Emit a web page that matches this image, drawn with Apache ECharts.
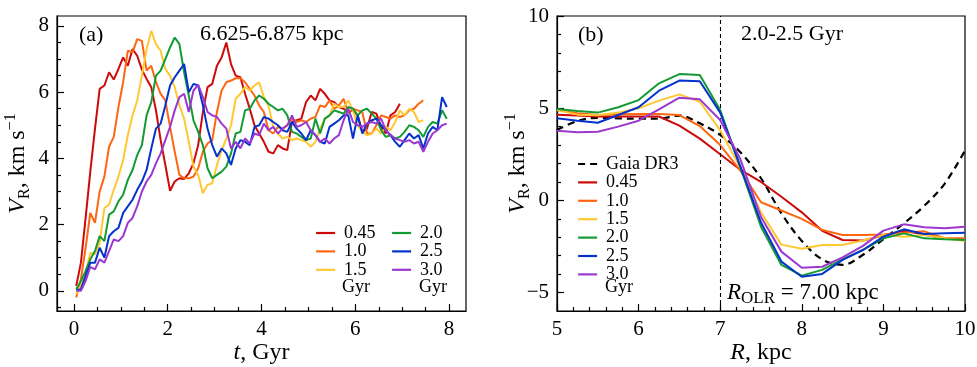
<!DOCTYPE html>
<html>
<head>
<meta charset="utf-8">
<script src="https://cdn.jsdelivr.net/npm/echarts@6/dist/echarts.min.js"></script>
<style>
  html, body { margin: 0; padding: 0; background: #fff; }
  #chart { width: 977px; height: 367px; }
</style>
</head>
<body>
<div id="chart"></div>
<script>
// ---------- shared ----------
const ageLabels = ['0.45', '1.0', '1.5', '2.0', '2.5', '3.0'];
const ageColors = ['#cc0a0a', '#ff6611', '#ffc833', '#129a33', '#0433cc', '#9a38cf'];

// ---------- panel (a): V_R(t) in the 6.625-6.875 kpc ring ----------
const ringLabel = '6.625-6.875 kpc';
const tFirst = 0.05;   // first sample time, Gyr
const tStep = 0.1;     // sampling step, Gyr
const vrTime045 = [0.15,0.85,2.2,3.6,4.9,6.1,6.2,6.6,6.38,6.7,
  7.05,6.8,7.3,7.1,6.68,6.4,6.15,5.45,4.55,3.8,
  3.02,3.3,3.4,3.38,3.55,3.85,4.4,5.4,6.15,6.25,
  6.8,7.05,7.5,6.85,6.5,6.45,5.95,5.5,5.0,4.75,
  4.5,4.2,4.15,4.4,4.3,4.25,5.1,5.15,5.2,5.7,
  5.9,5.75,6.1,5.95,5.75,5.7,5.55,5.5,5.4,5.45,
  5.3,4.8,4.9,5.4,5.35,4.95,4.75,5.3,5.4,5.65];
const vrTime10 = [-0.2,0.35,1.3,2.35,2.05,3.0,3.45,4.35,4.65,5.55,
  6.3,7.25,7.2,7.6,7.55,6.65,6.8,6.3,5.95,5.75,
  4.95,4.2,3.5,3.4,3.4,3.45,3.7,4.2,4.45,4.55,
  5.4,6.05,6.3,6.35,6.42,6.42,6.3,6.1,5.9,5.6,
  5.4,4.85,4.75,4.95,4.9,5.0,5.2,5.1,5.15,5.1,
  5.2,5.25,5.6,5.55,5.75,5.5,5.6,5.8,5.35,5.5,
  5.45,5.4,4.75,4.75,5.0,5.3,5.25,5.2,5.3,5.25,
  5.3,5.45,5.5,5.65,5.75];
const vrTime15 = [-0.1,0.15,0.55,1.15,1.1,1.45,2.5,2.6,3.05,3.45,
  3.95,4.7,5.3,5.75,6.5,7.3,7.85,7.45,7.25,6.7,
  6.5,6.15,5.6,5.2,4.5,3.75,3.5,2.95,3.2,3.25,
  3.8,4.25,4.6,5.0,5.8,5.95,6.15,6.05,6.2,6.3,
  5.85,5.6,4.95,4.75,4.6,4.65,4.55,4.6,4.55,4.5,
  4.35,4.5,4.9,5.2,5.3,5.65,5.55,5.55,5.75,5.45,
  5.0,4.8,4.7,4.75,4.9,4.75,4.95,4.85,5.1,5.45,
  5.3,5.5,5.4,5.1,5.15];
const vrTime20 = [0.05,0.3,0.6,0.95,1.2,1.65,1.5,2.3,2.4,2.7,
  2.9,3.35,3.65,4.1,4.4,5.3,5.7,6.5,6.65,7.0,
  7.35,7.65,7.45,6.6,5.9,5.15,4.8,4.4,3.7,3.4,
  3.5,3.6,3.75,4.15,4.75,4.8,5.45,5.5,5.75,5.9,
  5.8,5.65,5.55,5.45,5.5,5.3,4.8,4.75,4.65,4.55,
  4.6,5.2,4.75,5.2,5.3,5.45,5.4,5.35,5.55,5.5,
  5.3,5.45,5.5,5.35,5.2,4.85,4.65,4.7,4.6,4.65,
  4.8,5.0,4.95,4.85,4.65,4.95,5.1,5.05,5.45,5.2];
const vrTime25 = [0.02,0.05,0.45,0.85,0.85,1.3,1.0,1.65,1.8,1.9,
  2.35,2.55,2.75,3.05,3.3,3.65,4.3,4.9,5.05,5.6,
  6.2,6.45,6.65,6.85,6.0,6.25,6.2,5.6,4.9,4.4,
  4.05,4.3,4.15,3.8,4.3,4.55,4.5,4.4,4.95,5.0,
  5.25,5.2,5.1,5.0,4.85,4.8,5.1,4.9,4.75,4.55,
  4.85,4.7,4.5,4.45,4.95,5.05,5.15,5.3,5.3,4.6,
  5.3,4.75,5.05,5.15,5.2,5.0,4.85,4.7,4.5,4.35,
  4.55,4.75,4.6,4.7,4.3,4.75,4.95,4.85,5.85,5.55];
const vrTime30 = [0.0,0.0,0.3,0.72,0.65,0.95,0.85,1.2,1.55,1.5,
  1.65,2.05,2.2,2.55,3.0,3.3,3.5,3.85,4.15,4.55,
  4.95,5.45,5.85,5.95,5.4,6.05,6.22,5.85,5.4,5.3,
  5.25,5.05,4.9,4.3,4.5,4.3,4.6,4.45,4.75,4.7,
  5.05,4.85,4.95,4.75,4.9,5.0,5.3,4.95,5.0,5.1,
  4.85,4.7,4.5,4.6,4.45,4.6,4.7,5.15,5.5,5.1,
  5.0,4.95,5.05,5.1,5.05,5.2,4.85,4.7,4.6,4.55,
  4.5,4.55,4.45,4.5,4.2,4.5,4.75,4.85,5.0,5.05];
const vrTime = [vrTime045, vrTime10, vrTime15, vrTime20, vrTime25, vrTime30];

// ---------- panel (b): V_R(R) for 2.0-2.5 Gyr ----------
const epochLabel = '2.0-2.5 Gyr';
const rOLR = 7.0;
const radii = [5, 5.25, 5.5, 5.75, 6, 6.25, 6.5, 6.75, 7, 7.25, 7.5,
  7.75, 8, 8.25, 8.5, 8.75, 9, 9.25, 9.5, 9.75, 10];
const gaiaDR3 = [3.82,4.3,4.48,4.45,4.43,4.43,4.6,4.18,3.55,2.6,1.2,
  -0.7,-2.2,-3.2,-3.5,-2.95,-2.1,-1.25,-0.3,0.9,2.7];
const vrRad045 = [4.65,4.6,4.55,4.55,4.55,4.55,4.05,3.35,2.5,1.65,1.0,
  0.2,-0.65,-1.65,-2.15,-2.18,-1.9,-1.65,-1.85,-2.05,-2.15];
const vrRad10 = [4.9,4.72,4.63,4.67,4.69,4.69,4.63,4.03,3.0,1.6,-0.1,
  -0.55,-1.0,-1.6,-1.88,-1.88,-1.85,-1.75,-1.68,-2.05,-2.06];
const vrRad15 = [4.9,4.65,4.62,4.76,5.0,5.41,5.75,5.35,3.8,1.75,-0.65,
  -2.4,-2.62,-2.42,-2.42,-2.18,-1.88,-1.97,-1.88,-2.06,-2.2];
const vrRad20 = [4.95,4.85,4.76,5.05,5.44,6.35,6.85,6.8,4.9,1.75,-1.43,
  -3.5,-4.08,-3.77,-3.2,-2.69,-2.06,-1.79,-2.06,-2.11,-2.15];
const vrRad25 = [4.45,4.32,4.21,4.63,5.05,5.95,6.5,6.46,4.76,1.8,-1.2,
  -3.32,-4.14,-3.99,-3.23,-2.69,-1.97,-1.57,-1.82,-1.78,-1.75];
const vrRad30 = [3.78,3.69,3.72,4.0,4.32,4.94,5.57,5.48,4.36,2.2,-0.9,
  -2.78,-3.65,-3.6,-3.09,-2.47,-1.64,-1.3,-1.46,-1.51,-1.43];
const vrRad = [vrRad045, vrRad10, vrRad15, vrRad20, vrRad25, vrRad30];

// ---------- tick labels ----------
const tTicks = [0, 2, 4, 6, 8];
const vaTicks = [0, 2, 4, 6, 8];
const rTicks = [5, 6, 7, 8, 9, 10];
const vbTicks = [-5, 0, 5, 10];

// minor tick positions between the labelled ones
function minorTicks(from, to, step, majors) {
  const out = [];
  const n = Math.round((to - from) / step);
  for (let k = 0; k <= n; k++) {
    const v = +(from + k * step).toFixed(4);
    if (!majors.some(m => Math.abs(m - v) < 1e-6)) out.push(v);
  }
  return out;
}

const FONT = "'Liberation Serif', 'Times New Roman', serif";
const INK = '#000';
const AXIS_W = 1.2;

const nameRich = {
  i:   { fontFamily: FONT, fontStyle: 'italic', fontSize: 24, lineHeight: 30, color: INK },
  sub: { fontFamily: FONT, fontSize: 16, lineHeight: 16, verticalAlign: 'bottom', color: INK },
  sup: { fontFamily: FONT, fontSize: 16, lineHeight: 16, verticalAlign: 'top', color: INK }
};
const nameStyle = { fontFamily: FONT, fontSize: 24, lineHeight: 30, color: INK, rich: nameRich };

const fmtTick = v => (v < 0 ? '\u2212' + Math.abs(v) : String(v));

function majorAxis(grid, min, max, ticks, pos, name, gap) {
  return {
    type: 'value', gridIndex: grid, min: min, max: max, position: pos,
    axisLine: { show: true, onZero: false, lineStyle: { color: INK, width: AXIS_W } },
    axisTick: { show: true, inside: true, length: 7, customValues: ticks,
                lineStyle: { color: INK, width: AXIS_W } },
    axisLabel: { show: true, customValues: ticks, formatter: fmtTick, margin: 8,
                 fontFamily: FONT, fontSize: 21, color: INK },
    splitLine: { show: false },
    name: name, nameLocation: 'middle', nameGap: gap, nameMoveOverlap: false,
    nameTextStyle: nameStyle
  };
}
function minorAxis(grid, min, max, ticks, pos) {
  return {
    type: 'value', gridIndex: grid, min: min, max: max, position: pos,
    axisLine: { show: false, onZero: false },
    axisTick: { show: true, inside: true, length: 4, customValues: ticks,
                lineStyle: { color: INK, width: AXIS_W } },
    axisLabel: { show: false },
    splitLine: { show: false }
  };
}

// axis extents
const T_MIN = -0.36, T_MAX = 8.36, VA_MIN = -0.61, VA_MAX = 8.3;
const R_MIN = 5, R_MAX = 10, VB_MIN = -6, VB_MAX = 10;

const vName = '{i|V}{sub|R}, km s{sup|\u22121}';

const series = [];
vrTime.forEach((vals, s) => {
  series.push({
    type: 'line', name: ageLabels[s], xAxisIndex: 0, yAxisIndex: 0,
    data: vals.map((v, i) => [+(tFirst + i * tStep).toFixed(2), v]),
    symbol: 'none', lineStyle: { color: ageColors[s], width: 2 },
    itemStyle: { color: ageColors[s] }, z: 3 + s
  });
});
series.push({
  type: 'line', name: 'Gaia DR3', xAxisIndex: 2, yAxisIndex: 2,
  data: radii.map((r, i) => [r, gaiaDR3[i]]),
  symbol: 'none', smooth: 0.35,
  lineStyle: { color: INK, width: 2.2, type: [7, 5] },
  itemStyle: { color: INK }, z: 2,
  markLine: {
    silent: true, symbol: ['none', 'none'], label: { show: false },
    lineStyle: { color: INK, width: 1.1, type: [4, 3] },
    data: [{ xAxis: rOLR }]
  }
});
vrRad.forEach((vals, s) => {
  series.push({
    type: 'line', name: ageLabels[s], xAxisIndex: 2, yAxisIndex: 2,
    data: radii.map((r, i) => [r, vals[i]]),
    symbol: 'none', lineStyle: { color: ageColors[s], width: 2 },
    itemStyle: { color: ageColors[s] }, z: 3 + s
  });
});

// legend: plain line samples, no marker
function legendBlock(names, left, top) {
  return {
    orient: 'vertical', left: left, top: top, data: names,
    itemWidth: 19, itemHeight: 14, itemGap: 0.4, selectedMode: false,
    itemStyle: { opacity: 0, borderWidth: 0 },
    lineStyle: { width: 2.2 },
    textStyle: { fontFamily: FONT, fontSize: 18, lineHeight: 16.6, color: INK, padding: [0, 0, 0, 4] }
  };
}

function label(x, y, text, extra) {
  return {
    type: 'text', x: x, y: y, silent: true,
    style: Object.assign({
      text: text, fill: INK, fontFamily: FONT, fontSize: 22,
      align: 'left', verticalAlign: 'middle',
      textAlign: 'left', textVerticalAlign: 'middle'
    }, extra || {})
  };
}

const gridBase = { show: true, borderColor: INK, borderWidth: AXIS_W,
  backgroundColor: 'transparent', outerBoundsMode: 'none', containLabel: false };

const option = {
  animation: false,
  backgroundColor: '#fff',
  grid: [
    Object.assign({ left: 57, top: 16, width: 409, height: 295 }, gridBase),
    Object.assign({ left: 557, top: 16, width: 408, height: 295 }, gridBase)
  ],
  xAxis: [
    majorAxis(0, T_MIN, T_MAX, tTicks, 'bottom', '{i|t}, Gyr', 27),
    minorAxis(0, T_MIN, T_MAX, minorTicks(0, 8, 0.5, tTicks), 'bottom'),
    majorAxis(1, R_MIN, R_MAX, rTicks, 'bottom', '{i|R}, kpc', 27),
    minorAxis(1, R_MIN, R_MAX, minorTicks(5, 10, 0.2, rTicks), 'bottom')
  ],
  yAxis: [
    majorAxis(0, VA_MIN, VA_MAX, vaTicks, 'left', vName, 24),
    minorAxis(0, VA_MIN, VA_MAX, minorTicks(-0.5, 8, 0.5, vaTicks), 'left'),
    majorAxis(1, VB_MIN, VB_MAX, vbTicks, 'left', vName, 24),
    minorAxis(1, VB_MIN, VB_MAX, minorTicks(-5, 10, 1, vbTicks), 'left')
  ],
  legend: [
    legendBlock(ageLabels.slice(0, 3), 310, 219),
    legendBlock(ageLabels.slice(3), 386, 219),
    legendBlock(['Gaia DR3'].concat(ageLabels), 572, 150)
  ],
  graphic: [
    label(79, 35, '(a)'),
    label(200, 34, ringLabel),
    label(578, 35, '(b)'),
    label(741, 34, epochLabel),
    label(727, 293, '{i|R}{sub|OLR} = ' + rOLR.toFixed(2) + ' kpc', {
      fontSize: 23,
      rich: {
        i: { fontFamily: FONT, fontStyle: 'italic', fontSize: 23, lineHeight: 28, fill: INK },
        sub: { fontFamily: FONT, fontSize: 17, lineHeight: 17, verticalAlign: 'bottom', fill: INK }
      },
      lineHeight: 28
    }),
    label(342, 287, 'Gyr', { fontSize: 18 }),
    label(419, 287, 'Gyr', { fontSize: 18 }),
    label(605, 287, 'Gyr', { fontSize: 18 })
  ],
  series: series
};

const chart = echarts.init(document.getElementById('chart'), null, { renderer: 'canvas' });
chart.setOption(option);
</script>
</body>
</html>
